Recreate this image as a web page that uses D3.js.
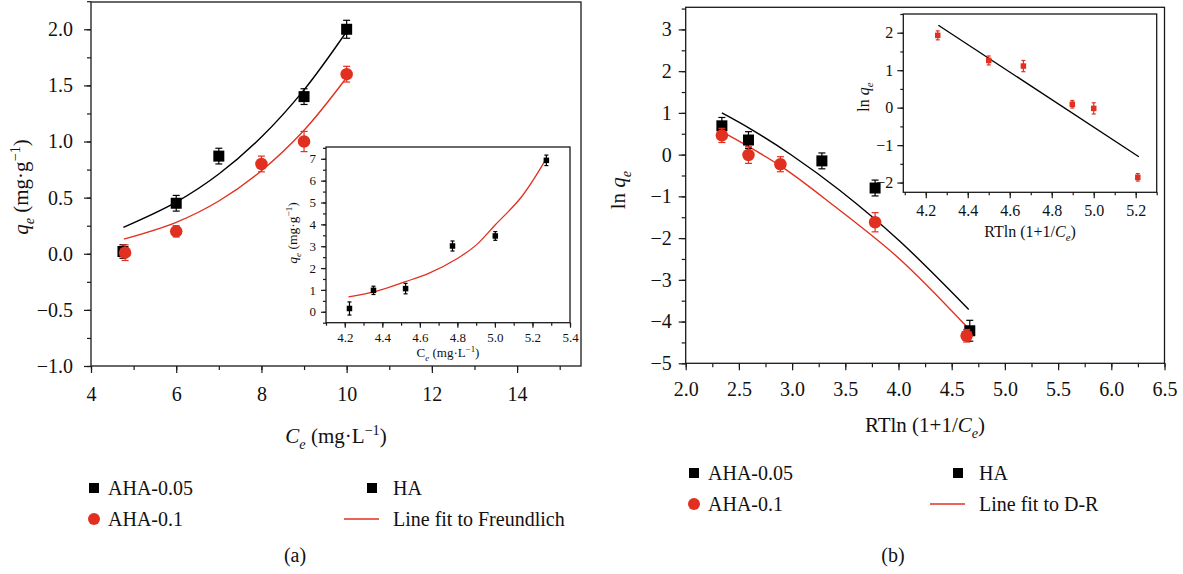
<!DOCTYPE html>
<html>
<head>
<meta charset="utf-8">
<script src="https://cdn.jsdelivr.net/npm/d3@7"></script>
<style>
  body { margin: 0; background: #fff; }
</style>
</head>
<body>
<div id="chart"></div>
<script>
// ---- panel (a): Freundlich ----
var aBlackCe  = [4.75, 6, 7, 9, 10];
var aBlackQe  = [0.02, 0.45, 0.87, 1.40, 2.00];
var aBlackErr = [0.06, 0.07, 0.07, 0.07, 0.08];
var aRedCe    = [4.8, 6, 8, 9, 10];
var aRedQe    = [0.01, 0.20, 0.80, 1.00, 1.60];
var aRedErr   = [0.07, 0.05, 0.07, 0.09, 0.07];
var aBlackFitX = [4.76, 6, 7, 8, 9, 10];
var aBlackFitY = [0.235, 0.46, 0.71, 1.04, 1.46, 1.98];
var aRedFitX   = [4.77, 6, 7, 8, 9, 10];
var aRedFitY   = [0.13, 0.28, 0.47, 0.74, 1.10, 1.57];
// inset (a): HA
var aInsetCe  = [4.225, 4.353, 4.524, 4.774, 5.002, 5.274];
var aInsetQe  = [0.15, 0.98, 1.06, 3.01, 3.47, 6.93];
var aInsetErr = [0.30, 0.19, 0.24, 0.23, 0.20, 0.24];
var aInsetFitX = [4.22, 4.37, 4.52, 4.65, 4.8, 4.9, 5.0, 5.14, 5.27];
var aInsetFitY = [0.68, 0.95, 1.37, 1.77, 2.44, 3.05, 3.96, 5.24, 6.95];

// ---- panel (b): D-R ----
var bBlackX   = [2.34, 2.59, 3.28, 3.78, 4.67];
var bBlackY   = [0.69, 0.35, -0.15, -0.80, -4.22];
var bBlackErr = [0.20, 0.20, 0.19, 0.19, 0.25];
var bRedX     = [2.34, 2.59, 2.89, 3.78, 4.64];
var bRedY     = [0.46, -0.01, -0.23, -1.62, -4.34];
var bRedErr   = [0.17, 0.20, 0.18, 0.23, 0.15];
var bBlackFitX = [2.34, 2.6, 3.0, 3.45, 4.01, 4.66];
var bBlackFitY = [1.0, 0.63, -0.02, -0.86, -2.07, -3.71];
var bRedFitX   = [2.34, 2.89, 3.39, 4.01, 4.64];
var bRedFitY   = [0.55, -0.27, -1.22, -2.5, -4.12];
// inset (b): HA
var bInsetX   = [4.257, 4.50, 4.665, 4.898, 5.0, 5.21];
var bInsetY   = [1.93, 1.26, 1.11, 0.09, -0.02, -1.86];
var bInsetErr = [0.12, 0.12, 0.15, 0.10, 0.15, 0.10];
var bInsetFitX = [4.26, 5.215];
var bInsetFitY = [2.2, -1.31];

// legends
var legendA = ["AHA-0.05", "AHA-0.1", "HA", "Line fit to Freundlich"];
var legendB = ["AHA-0.05", "AHA-0.1", "HA", "Line fit to D-R"];

var RED = "#e1301f", INK = "#1a1a1a";
var FONT = "'Liberation Serif', 'DejaVu Serif', serif";
var W = 1183, H = 574;

var svg = d3.select("#chart").append("svg")
            .attr("width", W)
            .attr("height", H)
            .style("font-family", FONT);

function scales(box, xd, yd) {
    return {
        x: d3.scaleLinear().domain(xd).range([box.l, box.r]),
        y: d3.scaleLinear().domain(yd).range([box.b, box.t]),
        box: box
    };
}

function range(a, b, step) {
    var out = [];
    for (var i = 0; a + i * step <= b + 1e-9; i++) out.push(+(a + i * step).toFixed(4));
    return out;
}

function frame(s, fill) {
    svg.append("rect")
       .attr("x", s.box.l).attr("y", s.box.t)
       .attr("width", s.box.r - s.box.l).attr("height", s.box.b - s.box.t)
       .attr("fill", fill || "none")
       .attr("stroke", INK).attr("stroke-width", 1.3);
}

function axes(s, o) {
    function styleIt(g) {
        g.select(".domain").remove();
        g.attr("font-family", null).attr("font-size", o.fs).attr("color", INK);
        g.selectAll("line").attr("stroke-width", 1.2);
        g.selectAll("text").attr("fill", "#111")
         .style("font-family", FONT).style("font-size", o.fs + "px");
    }
    svg.append("g").attr("transform", "translate(0," + s.box.b + ")")
       .call(d3.axisBottom(s.x).tickValues(o.xMinor).tickSize(o.minor).tickFormat(""))
       .call(styleIt);
    svg.append("g").attr("transform", "translate(0," + s.box.b + ")")
       .call(d3.axisBottom(s.x).tickValues(o.xMajor).tickSize(o.major).tickPadding(o.xPad).tickFormat(o.xFmt))
       .call(styleIt);
    svg.append("g").attr("transform", "translate(" + s.box.l + ",0)")
       .call(d3.axisLeft(s.y).tickValues(o.yMinor).tickSize(o.minor).tickFormat(""))
       .call(styleIt);
    svg.append("g").attr("transform", "translate(" + s.box.l + ",0)")
       .call(d3.axisLeft(s.y).tickValues(o.yMajor).tickSize(o.major).tickPadding(o.yPad).tickFormat(o.yFmt))
       .call(styleIt);
}

function fitLine(s, xs, ys, color, w) {
    var pts = xs.map(function (d, i) { return [d, ys[i]]; });
    svg.append("path")
       .datum(pts)
       .attr("fill", "none")
       .attr("stroke", color)
       .attr("stroke-width", w || 1.4)
       .attr("d", d3.line().x(function (d) { return s.x(d[0]); })
                           .y(function (d) { return s.y(d[1]); })
                           .curve(d3.curveCatmullRom.alpha(0.5)));
}

function points(s, xs, ys, errs, color, shape, size, cap) {
    var data = xs.map(function (d, i) { return {x: d, y: ys[i], e: errs[i]}; });
    var g = svg.append("g");
    var eb = g.selectAll(".eb").data(data).enter().append("g")
              .attr("stroke", color).attr("stroke-width", 1.2);
    eb.append("line")
      .attr("x1", function (d) { return s.x(d.x); }).attr("x2", function (d) { return s.x(d.x); })
      .attr("y1", function (d) { return s.y(d.y - d.e); }).attr("y2", function (d) { return s.y(d.y + d.e); });
    [-1, 1].forEach(function (sg) {
        eb.append("line")
          .attr("x1", function (d) { return s.x(d.x) - cap; }).attr("x2", function (d) { return s.x(d.x) + cap; })
          .attr("y1", function (d) { return s.y(d.y + sg * d.e); }).attr("y2", function (d) { return s.y(d.y + sg * d.e); });
    });
    if (shape === "square") {
        g.selectAll(".m").data(data).enter().append("rect")
         .attr("x", function (d) { return s.x(d.x) - size / 2; })
         .attr("y", function (d) { return s.y(d.y) - size / 2; })
         .attr("width", size).attr("height", size)
         .attr("fill", color);
    } else {
        g.selectAll(".m").data(data).enter().append("circle")
         .attr("cx", function (d) { return s.x(d.x); })
         .attr("cy", function (d) { return s.y(d.y); })
         .attr("r", size / 2)
         .attr("fill", color);
    }
}

// plain text with the serif face set inline
function label(x, y, fs, str, anchor) {
    return svg.append("text")
              .attr("x", x).attr("y", y)
              .attr("text-anchor", anchor || "start")
              .attr("fill", "#111")
              .style("font-family", FONT)
              .style("font-size", fs + "px")
              .text(str);
}

// rich text: parts = [text, style] where style may hold "i" (italic), "sub", "sup"
function rich(x, y, fs, parts, rotate) {
    var t = svg.append("text")
               .style("font-size", fs + "px")
               .style("font-family", FONT)
               .attr("fill", "#111")
               .attr("text-anchor", "middle")
               .attr("transform", "translate(" + x + "," + y + ")" + (rotate ? " rotate(-90)" : ""));
    var shift = 0;
    parts.forEach(function (p) {
        var st = (p[1] || "").split(" ");
        var target = 0;
        if (st.indexOf("sub") >= 0) target = fs * 0.28;
        if (st.indexOf("sup") >= 0) target = -fs * 0.38;
        var ts = t.append("tspan").text(p[0]).attr("dy", target - shift);
        shift = target;
        if (st.indexOf("i") >= 0) ts.style("font-style", "italic");
        if (target !== 0) ts.style("font-size", (fs * 0.68) + "px");
    });
    return t;
}

function legend(x0, x1, yRows, labels) {
    // left column
    svg.append("rect").attr("x", x0 - 5).attr("y", yRows[0] - 5).attr("width", 10).attr("height", 10).attr("fill", "#000");
    svg.append("circle").attr("cx", x0).attr("cy", yRows[1]).attr("r", 6).attr("fill", RED);
    label(x0 + 14, yRows[0] + 7, 20, labels[0]);
    label(x0 + 14, yRows[1] + 7, 20, labels[1]);
    // right column
    svg.append("rect").attr("x", x1 - 21).attr("y", yRows[0] - 5).attr("width", 10).attr("height", 10).attr("fill", "#000");
    svg.append("line").attr("x1", x1 - 44).attr("x2", x1 - 9).attr("y1", yRows[1]).attr("y2", yRows[1])
       .attr("stroke", RED).attr("stroke-width", 1.4);
    label(x1 + 5, yRows[0] + 7, 20, labels[2]);
    label(x1 + 5, yRows[1] + 7, 20, labels[3]);
}

var f1 = d3.format(".1f"), f0 = d3.format("d");

// ================= panel (a) =================
var sa = scales({l: 91, r: 581, t: 2, b: 366}, [4, 15.5], [-1, 2.243]);
frame(sa);
axes(sa, {xMajor: range(4, 14, 2), xMinor: range(4, 15, 1), yMajor: range(-1, 2, 0.5), yMinor: range(-1, 2.25, 0.25),
          xFmt: f0, yFmt: f1, major: 7, minor: 4, xPad: 14, yPad: 11, fs: 20});
fitLine(sa, aBlackFitX, aBlackFitY, "#000");
fitLine(sa, aRedFitX, aRedFitY, RED);
points(sa, aBlackCe, aBlackQe, aBlackErr, "#000", "square", 11, 3.5);
points(sa, aRedCe, aRedQe, aRedErr, RED, "circle", 12.5, 3.5);
rich(336, 443, 21, [["C", "i"], ["e", "i sub"], [" (mg·L"], ["−1", "sup"], [")"]]);
rich(28, 187, 21, [["q", "i"], ["e", "i sub"], [" (mg·g"], ["−1", "sup"], [")"]], true);

// inset (a)
var sai = scales({l: 326, r: 570, t: 147, b: 322.7}, [4.1, 5.4], [-0.5, 7.54]);
frame(sai, "#fff");
axes(sai, {xMajor: range(4.2, 5.4, 0.2), xMinor: range(4.1, 5.4, 0.1), yMajor: range(0, 7, 1), yMinor: range(-0.5, 7.5, 0.5),
           xFmt: f1, yFmt: f0, major: 5, minor: 3, xPad: 5, yPad: 5, fs: 13});
fitLine(sai, aInsetFitX, aInsetFitY, RED, 1.3);
points(sai, aInsetCe, aInsetQe, aInsetErr, "#000", "square", 5.5, 2);
rich(448, 357, 13, [["C", ""], ["e", "i sub"], [" (mg·L"], ["−1", "sup"], [")"]]);
rich(297, 233, 13.5, [["q", "i"], ["e", "i sub"], [" (mg·g"], ["−1", "sup"], [")"]], true);

legend(94, 388, [488, 519], legendA);
label(295, 562, 20, "(a)", "middle");

// ================= panel (b) =================
var sb = scales({l: 685.7, r: 1164.5, t: 7.3, b: 363.3}, [2, 6.5], [-5, 3.53]);
frame(sb);
axes(sb, {xMajor: range(2, 6.5, 0.5), xMinor: range(2, 6.5, 0.25), yMajor: range(-5, 3, 1), yMinor: range(-5, 3.5, 0.5),
          xFmt: f1, yFmt: f0, major: 7, minor: 4, xPad: 12, yPad: 7, fs: 20});
fitLine(sb, bBlackFitX, bBlackFitY, "#000");
fitLine(sb, bRedFitX, bRedFitY, RED);
points(sb, bBlackX, bBlackY, bBlackErr, "#000", "square", 11, 3.5);
points(sb, bRedX, bRedY, bRedErr, RED, "circle", 12.5, 3.5);
rich(925, 432, 21, [["RTln (1+1/"], ["C", "i"], ["e", "i sub"], [")"]]);
rich(625, 190, 21, [["ln "], ["q", "i"], ["e", "i sub"]], true);

// inset (b)
var sbi = scales({l: 903.3, r: 1156.7, t: 14, b: 192.3}, [4.093, 5.3], [-2.26, 2.5]);
frame(sbi, "#fff");
axes(sbi, {xMajor: range(4.2, 5.2, 0.2), xMinor: range(4.1, 5.3, 0.1), yMajor: range(-2, 2, 1), yMinor: range(-2, 2.5, 0.5),
           xFmt: f1, yFmt: f0, major: 6, minor: 3, xPad: 6, yPad: 4, fs: 16});
fitLine(sbi, bInsetFitX, bInsetFitY, "#000", 1.3);
points(sbi, bInsetX, bInsetY, bInsetErr, RED, "square", 5.5, 2);
rich(1030, 237, 16, [["RTln (1+1/"], ["C", "i"], ["e", "i sub"], [")"]]);
rich(869, 97, 16, [["ln "], ["q", "i"], ["e", "i sub"]], true);

legend(694, 974, [473, 504], legendB);
label(893, 562, 20, "(b)", "middle");
</script>
</body>
</html>
